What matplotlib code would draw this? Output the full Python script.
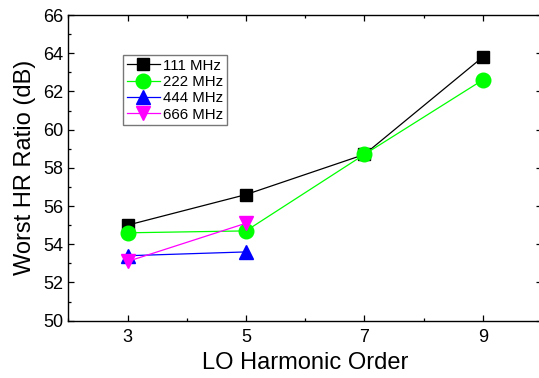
import matplotlib
matplotlib.use("Agg")
import matplotlib.pyplot as plt
from matplotlib.ticker import MultipleLocator

plt.rcParams['font.family'] = ['Liberation Sans', 'DejaVu Sans']

orders = [3, 5, 7, 9]
s111 = [55.0, 56.6, 58.7, 63.8]
s222 = [54.6, 54.7, 58.7, 62.6]
x444 = [3, 5]
s444 = [53.4, 53.6]
x666 = [3, 5]
s666 = [53.1, 55.1]
labels = ['111 MHz', '222 MHz', '444 MHz', '666 MHz']
xticks = [3, 5, 7, 9]
yticks = [50, 52, 54, 56, 58, 60, 62, 64, 66]

fig = plt.figure(figsize=(5.39, 3.78), dpi=100)
L = 68.3 / 539
B = 1 - 320.7 / 378
W = (542 - 68.3) / 539
H = (320.7 - 15) / 378
ax = fig.add_axes([L, B, W, H])

ax.plot(orders, s111, color='black', marker='s', markersize=9, lw=0.9, label=labels[0])
ax.plot(orders, s222, color='#00ff00', marker='o', markersize=10.5, lw=0.9, label=labels[1])
ax.plot(x444, s444, color='blue', marker='^', markersize=10.5, lw=0.9, label=labels[2])
ax.plot(x666, s666, color='magenta', marker='v', markersize=10.5, lw=0.9, label=labels[3])

ax.set_xlim(2, 10)
ax.set_ylim(50, 66)
ax.set_xticks(xticks)
ax.set_yticks(yticks)
ax.xaxis.set_minor_locator(MultipleLocator(1))
ax.yaxis.set_minor_locator(MultipleLocator(1))
ax.tick_params(which='both', direction='in', top=True, right=True, labelsize=13)
ax.tick_params(axis='x', which='major', pad=6)
ax.tick_params(which='major', length=4, width=0.9)
ax.tick_params(which='minor', length=2.5, width=0.9)
for s in ax.spines.values():
    s.set_linewidth(1.0)

ax.set_xlabel('LO Harmonic Order', fontsize=17, labelpad=4)
ax.set_ylabel('Worst HR Ratio (dB)', fontsize=17, labelpad=5)

leg = ax.legend(loc='upper left', bbox_to_anchor=(0.116, 0.869), borderaxespad=0,
                fontsize=10.8, frameon=True, fancybox=False, edgecolor='#555555',
                handlelength=2.2, labelspacing=0.15, handletextpad=0.2,
                borderpad=0.25, markerscale=1.0, handleheight=0.8)
leg.get_frame().set_linewidth(1.0)

fig.savefig('out.png', dpi=100)
